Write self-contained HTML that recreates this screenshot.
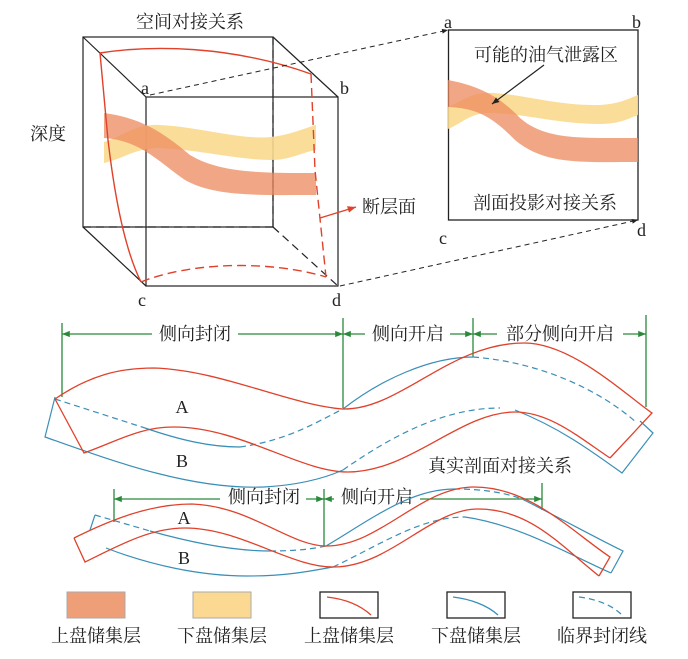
<!DOCTYPE html>
<html><head><meta charset="utf-8"><style>
html,body{margin:0;padding:0;background:#fff;}
svg{display:block;}
text{font-family:"Liberation Serif","Noto Serif CJK SC","Noto Sans CJK SC",serif;fill:#222;}
.cn{font-size:18px;}
.lt{font-size:18px;}
</style></head><body>
<svg width="688" height="659" viewBox="0 0 688 659" xmlns="http://www.w3.org/2000/svg">
<defs>
<marker id="ga" viewBox="0 0 10 10" refX="10" refY="5" markerWidth="6" markerHeight="6" orient="auto-start-reverse"><path d="M0,1 L10,5 L0,9 z" fill="#2a8a3a"/></marker>
<marker id="ka" viewBox="0 0 10 10" refX="10" refY="5" markerWidth="6" markerHeight="6" orient="auto"><path d="M0,1 L10,5 L0,9 z" fill="#222"/></marker>
<marker id="ra" viewBox="0 0 10 10" refX="10" refY="5" markerWidth="6" markerHeight="6" orient="auto"><path d="M0,1 L10,5 L0,9 z" fill="#e0412a"/></marker>
</defs>

<text x="190" y="28" class="cn" text-anchor="middle">空间对接关系</text>
<text x="30" y="140" class="cn">深度</text>
<g stroke="#222" stroke-width="1.2" fill="none">
<rect x="83" y="37" width="190" height="190"/>
<rect x="146" y="97" width="192" height="189"/>
<line x1="83" y1="37" x2="146" y2="97"/>
<line x1="273" y1="37" x2="338" y2="97"/>
<line x1="83" y1="227" x2="146" y2="286"/>
</g>
<g stroke="#222" stroke-width="1.2" fill="none" stroke-dasharray="8,5">
<line x1="83" y1="227" x2="273" y2="227"/>
<line x1="273" y1="37" x2="273" y2="227"/>
<line x1="273" y1="227" x2="338" y2="286"/>
</g>
<path d="M104,142 C125,135 135,124 160,125 C200,127 240,140 271,137 C290,135 305,128 316,125 L316,150 C300,153 290,160 271,160 C240,160 200,150 160,148 C135,148 125,158 104,163 Z" fill="#fbd98f" opacity="0.9"/>
<path d="M104,113 C140,118 160,130 190,155 C220,173 260,173 316,173 L316,195 C260,195 215,197 185,180 C160,163 140,140 104,138 Z" fill="#ec8a5e" opacity="0.75"/>
<path d="M100,53 C150,45 230,45 311,74" stroke="#e0412a" stroke-width="1.4" fill="none"/>
<path d="M100,53 L108,140 C115,200 125,250 141,282" stroke="#e0412a" stroke-width="1.4" fill="none"/>
<path d="M311,74 L315,170 L326,277" stroke="#e0412a" stroke-width="1.4" fill="none" stroke-dasharray="9,5"/>
<path d="M141,282 C190,262 270,260 326,277" stroke="#e0412a" stroke-width="1.4" fill="none" stroke-dasharray="9,5"/>
<line x1="320" y1="218" x2="356" y2="207" stroke="#e0412a" stroke-width="1.4" marker-end="url(#ra)"/>
<text x="362" y="213" class="cn">断层面</text>
<text x="141" y="94" class="lt">a</text>
<text x="340" y="94" class="lt">b</text>
<text x="138" y="306" class="lt">c</text>
<text x="332" y="306" class="lt">d</text>
<line x1="150" y1="95" x2="448" y2="30" stroke="#222" stroke-width="1" stroke-dasharray="5,4" marker-end="url(#ka)"/>
<line x1="340" y1="286" x2="638" y2="220" stroke="#222" stroke-width="1" stroke-dasharray="5,4" marker-end="url(#ka)"/>
<rect x="448.5" y="30" width="189.5" height="190" stroke="#222" stroke-width="1.3" fill="none"/>
<path d="M448,107 C465,100 470,92 495,93 C530,96 560,106 600,105 C620,104 630,98 638,95 L638,115 C630,118 620,124 600,124 C560,124 530,115 495,113 C470,112 465,122 448,129 Z" fill="#fbd98f" opacity="0.9"/>
<path d="M448,80 C480,86 500,97 520,118 C545,140 580,138 638,138 L638,162 C580,162 545,165 515,140 C495,120 480,108 448,107 Z" fill="#ec8a5e" opacity="0.75"/>
<text x="546" y="61" class="cn" text-anchor="middle">可能的油气泄露区</text>
<line x1="544" y1="65" x2="492" y2="104" stroke="#222" stroke-width="1.2" marker-end="url(#ka)"/>
<text x="545" y="209" class="cn" text-anchor="middle">剖面投影对接关系</text>
<text x="444" y="28" class="lt">a</text>
<text x="632" y="28" class="lt">b</text>
<text x="439" y="244" class="lt">c</text>
<text x="637" y="236" class="lt">d</text>

<g stroke="#2a8a3a" stroke-width="1.3" fill="none">
<line x1="62" y1="323" x2="62" y2="397"/>
<line x1="343" y1="318" x2="343" y2="408"/>
<line x1="473" y1="318" x2="473" y2="357"/>
<line x1="646" y1="315" x2="646" y2="407"/>
<line x1="62" y1="334" x2="152" y2="334" marker-start="url(#ga)"/>
<line x1="238" y1="334" x2="343" y2="334" marker-end="url(#ga)"/>
<line x1="343" y1="334" x2="365" y2="334" marker-start="url(#ga)"/>
<line x1="450" y1="334" x2="473" y2="334" marker-end="url(#ga)"/>
<line x1="473" y1="334" x2="497" y2="334" marker-start="url(#ga)"/>
<line x1="623" y1="334" x2="646" y2="334" marker-end="url(#ga)"/>
</g>
<text x="195" y="340" class="cn" text-anchor="middle">侧向封闭</text>
<text x="408" y="340" class="cn" text-anchor="middle">侧向开启</text>
<text x="560" y="340" class="cn" text-anchor="middle">部分侧向开启</text>
<g stroke="#3a8fb7" stroke-width="1.2" fill="none">
<path d="M343,409 C380,380 430,357 473,357"/>
<path d="M473,357 C540,362 600,390 637,423" stroke-dasharray="6,4"/>
<path d="M55,397 L45,437 C110,460 190,490 264,487 C300,485 325,478 343,470"/>
<path d="M343,470 C400,430 450,408 500,408" stroke-dasharray="6,4"/>
<path d="M515,410 C560,428 590,450 622,473 L653,433 L640,421"/>
<path d="M55,399 L145,428" stroke-dasharray="6,4"/>
<path d="M145,428 C180,440 210,447 240,447"/>
<path d="M240,447 C290,440 320,420 343,409" stroke-dasharray="6,4"/>
</g>
<g stroke="#e0412a" stroke-width="1.3" fill="none">
<path d="M55,399 C90,375 120,368 154,368 C220,370 290,405 343,409 C400,410 450,343 524,343 C570,343 620,390 652,413 L610,458"/>
<path d="M55,399 L84,453 C120,440 140,427 174,427 C240,427 300,472 348,472 C410,472 460,412 515,412 C550,412 580,438 610,458"/>
</g>
<text x="182" y="413" class="lt" text-anchor="middle">A</text>
<text x="182" y="467" class="lt" text-anchor="middle">B</text>
<text x="500" y="472" class="cn" text-anchor="middle">真实剖面对接关系</text>

<g stroke="#2a8a3a" stroke-width="1.3" fill="none">
<line x1="114" y1="489" x2="114" y2="522"/>
<line x1="324" y1="489" x2="324" y2="546"/>
<line x1="542" y1="483" x2="542" y2="510"/>
<line x1="114" y1="499" x2="220" y2="499" marker-start="url(#ga)"/>
<line x1="306" y1="499" x2="324" y2="499" marker-end="url(#ga)"/>
<line x1="324" y1="499" x2="334" y2="499" marker-start="url(#ga)"/>
<line x1="420" y1="499" x2="542" y2="499" marker-end="url(#ga)"/>
</g>
<text x="264" y="503" class="cn" text-anchor="middle">侧向封闭</text>
<text x="377" y="503" class="cn" text-anchor="middle">侧向开启</text>
<g stroke="#3a8fb7" stroke-width="1.2" fill="none">
<path d="M326,546 C370,520 410,489 454,489"/>
<path d="M454,489 C480,489 505,492 524,500" stroke-dasharray="6,4"/>
<path d="M524,500 C560,518 600,540 623,551 L611,573"/>
<path d="M95,515 L90,530"/>
<path d="M106,548 C150,565 200,576 247,576 C290,576 315,570 333,567"/>
<path d="M333,567 C380,545 420,517 465,517" stroke-dasharray="6,4"/>
<path d="M465,517 C520,525 570,555 611,573"/>
<path d="M95,515 L150,531" stroke-dasharray="6,4"/>
<path d="M150,531 C200,545 240,551 270,551"/>
<path d="M270,551 C295,551 312,549 326,546" stroke-dasharray="6,4"/>
</g>
<g stroke="#e0412a" stroke-width="1.3" fill="none">
<path d="M74,538 C110,520 150,504 192,504 C250,506 290,546 326,546 C380,546 420,487 474,487 C530,487 570,530 610,557 L599,576"/>
<path d="M74,538 L85,562 C120,545 150,528 185,528 C240,528 290,567 333,567 C390,567 430,509 478,509 C530,509 560,545 599,576"/>
</g>
<text x="184" y="524" class="lt" text-anchor="middle">A</text>
<text x="184" y="564" class="lt" text-anchor="middle">B</text>

<rect x="67" y="592" width="58" height="26" fill="#ef9f78" stroke="#aaa" stroke-width="1"/>
<rect x="193" y="592" width="58" height="26" fill="#fbd993" stroke="#aaa" stroke-width="1"/>
<rect x="320" y="592" width="58" height="26" fill="none" stroke="#222" stroke-width="1.3"/>
<path d="M327,597 C345,599 360,605 371,615" stroke="#e0412a" stroke-width="1.3" fill="none"/>
<rect x="447" y="592" width="58" height="26" fill="none" stroke="#222" stroke-width="1.3"/>
<path d="M453,597 C470,599 487,605 498,615" stroke="#3a8fb7" stroke-width="1.3" fill="none"/>
<rect x="573" y="592" width="58" height="26" fill="none" stroke="#222" stroke-width="1.3"/>
<path d="M579,597 C596,599 612,605 622,615" stroke="#3a8fb7" stroke-width="1.3" fill="none" stroke-dasharray="6,4"/>
<text x="96" y="642" class="cn" text-anchor="middle">上盘储集层</text>
<text x="222" y="642" class="cn" text-anchor="middle">下盘储集层</text>
<text x="349" y="642" class="cn" text-anchor="middle">上盘储集层</text>
<text x="476" y="642" class="cn" text-anchor="middle">下盘储集层</text>
<text x="602" y="642" class="cn" text-anchor="middle">临界封闭线</text>
</svg>
</body></html>
